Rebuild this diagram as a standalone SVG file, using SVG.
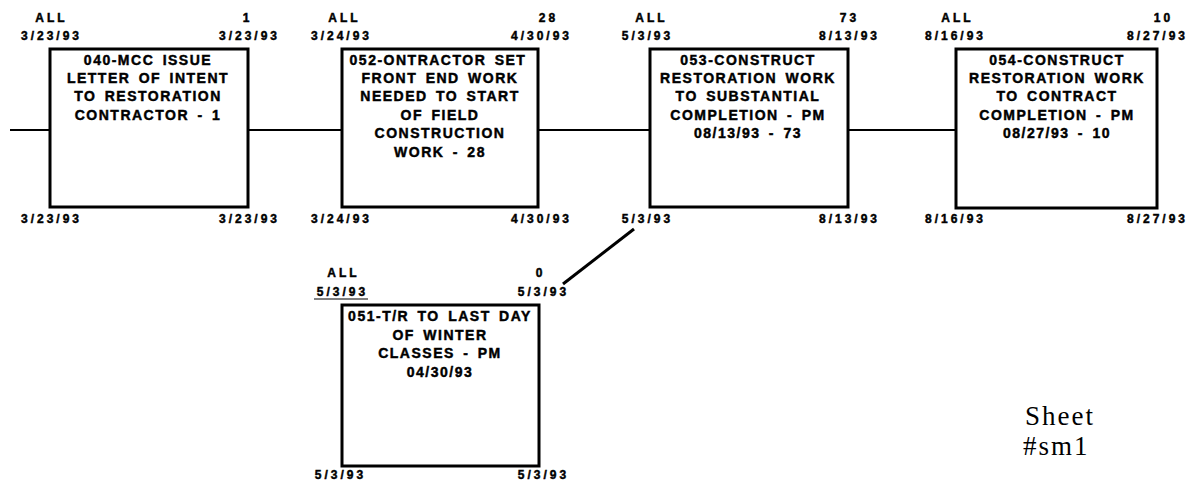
<svg xmlns="http://www.w3.org/2000/svg" width="1191" height="484" viewBox="0 0 1191 484">
<style>
.box{fill:#fff;stroke:#000;stroke-width:3}
.lbl{font-family:"Liberation Sans",Arial,sans-serif;font-weight:bold;font-size:12px;letter-spacing:3px;text-anchor:middle;fill:#000;stroke:#000;stroke-width:0.45}
.txt{font-family:"Liberation Sans",Arial,sans-serif;font-weight:bold;font-size:14px;letter-spacing:1.5px;word-spacing:3px;text-anchor:middle;fill:#000;stroke:#000;stroke-width:0.45}
.con{stroke:#000;stroke-width:2;fill:none}
.sheet{font-family:"Liberation Serif","Times New Roman",serif;font-size:27px;letter-spacing:2px;fill:#000}
</style>
<rect width="1191" height="484" fill="#fff"/>
<g id="connectors">
<line class="con" x1="10" y1="130" x2="50" y2="130"/>
<line class="con" x1="248" y1="130" x2="342" y2="130"/>
<line class="con" x1="538" y1="130" x2="650" y2="130"/>
<line class="con" x1="848" y1="130" x2="956" y2="130"/>
<line class="con" x1="634" y1="229" x2="563" y2="284" style="stroke-width:3"/>
</g>
<g id="n040">
<rect class="box" x="50" y="49" width="198" height="158"/>
<text class="lbl" x="51.5" y="22">ALL</text>
<text class="lbl" x="51.5" y="40">3/23/93</text>
<text class="lbl" x="247.5" y="22">1</text>
<text class="lbl" x="249.5" y="40">3/23/93</text>
<text class="lbl" x="51.5" y="223">3/23/93</text>
<text class="lbl" x="249.5" y="223">3/23/93</text>
<text class="txt" x="148" y="65">040-MCC ISSUE</text>
<text class="txt" x="148" y="83">LETTER OF INTENT</text>
<text class="txt" x="148" y="101">TO RESTORATION</text>
<text class="txt" x="148" y="120">CONTRACTOR - 1</text>
</g>
<g id="n052">
<rect class="box" x="342" y="49" width="196" height="158"/>
<text class="lbl" x="344.5" y="22">ALL</text>
<text class="lbl" x="341.5" y="40">3/24/93</text>
<text class="lbl" x="548.5" y="22">28</text>
<text class="lbl" x="541.5" y="40">4/30/93</text>
<text class="lbl" x="341.5" y="223">3/24/93</text>
<text class="lbl" x="541.5" y="223">4/30/93</text>
<text class="txt" x="438" y="65">052-ONTRACTOR SET</text>
<text class="txt" x="440" y="83">FRONT END WORK</text>
<text class="txt" x="440" y="101">NEEDED TO START</text>
<text class="txt" x="440" y="120">OF FIELD</text>
<text class="txt" x="440" y="138">CONSTRUCTION</text>
<text class="txt" x="440" y="157">WORK - 28</text>
</g>
<g id="n053">
<rect class="box" x="650" y="49" width="198" height="158"/>
<text class="lbl" x="651.5" y="22">ALL</text>
<text class="lbl" x="647.5" y="40">5/3/93</text>
<text class="lbl" x="849.5" y="22">73</text>
<text class="lbl" x="849.5" y="40">8/13/93</text>
<text class="lbl" x="647.5" y="223">5/3/93</text>
<text class="lbl" x="849.5" y="223">8/13/93</text>
<text class="txt" x="748" y="65">053-CONSTRUCT</text>
<text class="txt" x="748" y="83">RESTORATION WORK</text>
<text class="txt" x="748" y="101">TO SUBSTANTIAL</text>
<text class="txt" x="748" y="120">COMPLETION - PM</text>
<text class="txt" x="748" y="138">08/13/93 - 73</text>
</g>
<g id="n054">
<rect class="box" x="956" y="49" width="201" height="159"/>
<text class="lbl" x="957.5" y="22">ALL</text>
<text class="lbl" x="955.5" y="40">8/16/93</text>
<text class="lbl" x="1163.5" y="22">10</text>
<text class="lbl" x="1157.5" y="40">8/27/93</text>
<text class="lbl" x="955.5" y="223">8/16/93</text>
<text class="lbl" x="1157.5" y="223">8/27/93</text>
<text class="txt" x="1057" y="65">054-CONSTRUCT</text>
<text class="txt" x="1057" y="83">RESTORATION WORK</text>
<text class="txt" x="1057" y="101">TO CONTRACT</text>
<text class="txt" x="1057" y="120">COMPLETION - PM</text>
<text class="txt" x="1057" y="138">08/27/93 - 10</text>
</g>
<g id="n051">
<rect class="box" x="342" y="305" width="197" height="161"/>
<text class="lbl" x="343.5" y="277">ALL</text>
<text class="lbl" x="342.5" y="296">5/3/93</text>
<line x1="314" y1="299" x2="368" y2="299" stroke="#000" stroke-width="1.2"/>
<text class="lbl" x="540.5" y="277">0</text>
<text class="lbl" x="543.5" y="296">5/3/93</text>
<text class="lbl" x="340.5" y="479">5/3/93</text>
<text class="lbl" x="543.5" y="479">5/3/93</text>
<text class="txt" x="440" y="321">051-T/R TO LAST DAY</text>
<text class="txt" x="440" y="340">OF WINTER</text>
<text class="txt" x="440" y="358">CLASSES - PM</text>
<text class="txt" x="440" y="377">04/30/93</text>
</g>
<text class="sheet" x="1025" y="425">Sheet</text>
<text class="sheet" x="1023" y="455">#sm1</text>
</svg>
